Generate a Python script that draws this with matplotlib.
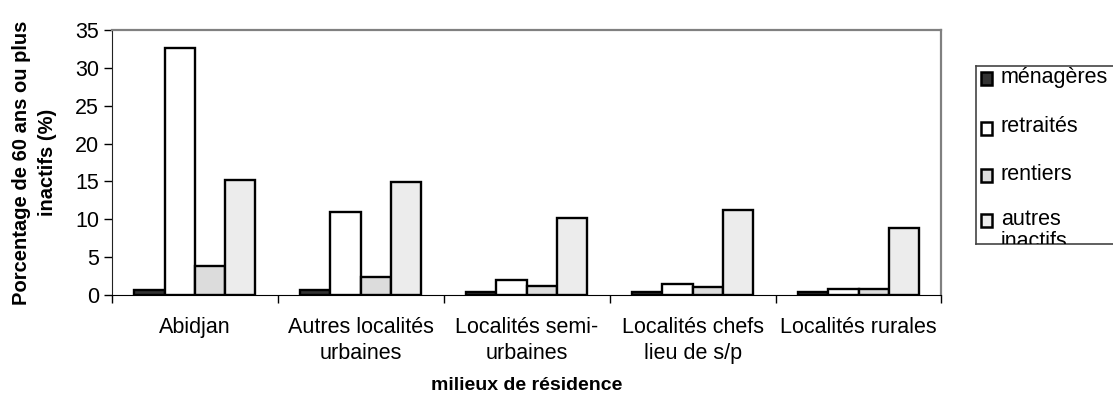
import numpy as np
import matplotlib
matplotlib.use("Agg")
import matplotlib.pyplot as plt
from matplotlib.patches import Rectangle

plt.rcParams['font.family'] = ['Liberation Sans', 'DejaVu Sans']

# data
categories = ["Abidjan", "Autres localités\nurbaines", "Localités semi-\nurbaines",
              "Localités chefs\nlieu de s/p", "Localités rurales"]
series_names = ["ménagères", "retraités", "rentiers", "autres\ninactifs"]
menageres = [0.7, 0.6, 0.4, 0.45, 0.4]
retraites = [32.6, 10.9, 2.0, 1.45, 0.85]
rentiers = [3.85, 2.4, 1.15, 1.0, 0.75]
autres = [15.15, 14.9, 10.2, 11.2, 8.8]
colors = ["#333333", "#ffffff", "#dcdcdc", "#ececec"]

fig = plt.figure(figsize=(11.13, 4.01), dpi=100)
ax = fig.add_axes([0.1004, 0.2643, 0.7455, 0.6609])

x = np.arange(len(categories))
bw = 0.182
for i, vals in enumerate([menageres, retraites, rentiers, autres]):
    ax.bar(x + (i - 1.5) * bw, vals, bw, color=colors[i], edgecolor="black",
           linewidth=1.7, zorder=3)

ax.set_xlim(-0.5, len(categories) - 0.5)
ax.set_ylim(0, 35)
ax.set_yticks(range(0, 36, 5))
ax.tick_params(axis='y', labelsize=15.5, length=6, width=1, pad=3, direction='out')

# category boundaries as ticks, names centred on minor ticks
ax.set_xticks(np.arange(-0.5, len(categories), 1.0))
ax.set_xticklabels([])
ax.set_xticks(x, minor=True)
ax.set_xticklabels(categories, minor=True, fontsize=15.5, linespacing=1.3)
ax.tick_params(axis='x', which='major', length=6, width=1, direction='out')
ax.tick_params(axis='x', which='minor', length=0, pad=16)

for s in ['top', 'right']:
    ax.spines[s].set_color('#808080')
    ax.spines[s].set_linewidth(1.6)
ax.spines['left'].set_color('#222222')
ax.spines['bottom'].set_color('black')

ax.set_xlabel("milieux de résidence", fontsize=14, fontweight='bold', labelpad=9)
ax.set_ylabel("Porcentage de 60 ans ou plus\ninactifs (%)", fontsize=14.5,
              fontweight='bold', linespacing=1.5, labelpad=13)

# legend box, cut off at the right edge like the original
lax = fig.add_axes([976 / 1113, (401 - 244) / 401, 0.2, (244 - 65.7) / 401])
lax.set_xlim(976, 976 + 0.2 * 1113)
lax.set_ylim(244, 65.7)
lax.set_xticks([])
lax.set_yticks([])
lax.spines['right'].set_visible(False)
for s in ['left', 'top', 'bottom']:
    lax.spines[s].set_color('#444444')
    lax.spines[s].set_linewidth(1.2)
rows = [78.7, 128, 175, 220.7]
for i, name in enumerate(series_names):
    lax.add_patch(Rectangle((980.5, rows[i] - 6.5), 11, 13, facecolor=colors[i],
                            edgecolor='black', linewidth=1.8))
    lax.text(1001, rows[i] - 11.5, name, fontsize=15.5, va='top', ha='left',
             linespacing=1.05, clip_on=True)

fig.savefig("out.png", dpi=100)
